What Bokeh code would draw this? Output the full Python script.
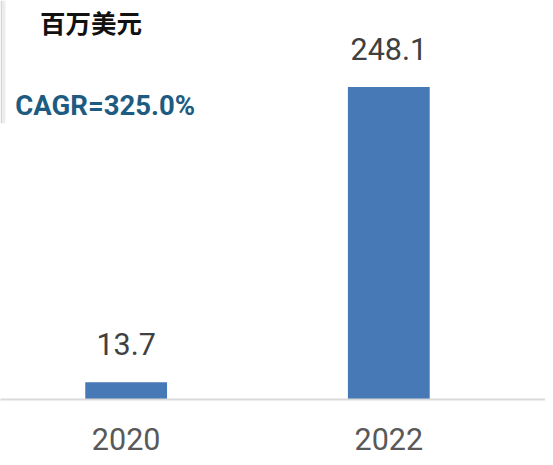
from bokeh.plotting import figure
from bokeh.models import Range1d, FixedTicker, ColumnDataSource, Label
from bokeh.embed import file_html
from bokeh.resources import INLINE
from bokeh.core.properties import value

# ---- data ----
years = ["2020", "2022"]
values = [13.7, 248.1]
value_labels = ["13.7", "248.1"]
unit_label = "百万美元"
cagr_label = "CAGR=325.0%"

positions = [i + 0.5 for i in range(len(years))]

# ---- layout ----
W, H = 545, 457
KX, KY = W / 553, H / 465        # reference pixels -> figure pixels
FRAME_H = round(406 * KY)         # axis line position
X_PX = (394 - 127.5) * KX         # pixels per category slot
X_START = 0.5 - 127.5 * KX / X_PX
X_END = X_START + W / X_PX
Y_PX = (406 - 88) * KY / 248.1
Y_END = FRAME_H / Y_PX


def sx(rx):
    return X_START + rx * KX / X_PX


def sy(ry):
    return (FRAME_H - ry * KY) / Y_PX


p = figure(width=W, height=H, output_backend="svg", toolbar_location=None,
           x_range=Range1d(X_START, X_END), y_range=Range1d(0, Y_END),
           min_border=0, min_border_bottom=H - FRAME_H,
           y_axis_location=None)
p.outline_line_color = None
p.xgrid.grid_line_color = None
p.ygrid.grid_line_color = None
p.background_fill_color = "white"
p.border_fill_color = "white"

# faint grey edge strip at the top-left (decoration seen in the reference)
p.quad(left=[sx(0), sx(2)], right=[sx(2), sx(5)], top=[sy(0), sy(0)],
       bottom=[sy(125), sy(125)], fill_color=["#d6d6d6", "#ededed"],
       line_color=None)

src = ColumnDataSource(dict(x=positions, top=values, label=value_labels))
p.vbar(x="x", top="top", bottom=0, width=83 * KX / X_PX, source=src,
       fill_color="#4779B7", line_color=None)
p.text(x="x", y="top", text="label", source=src, y_offset=-38,
       text_align="center", text_baseline="middle",
       text_font=value("Roboto"), text_font_size="30.5px", text_color="#404040")

ax = p.xaxis[0]
ax.ticker = FixedTicker(ticks=positions)
ax.major_label_overrides = {pos: yr for pos, yr in zip(positions, years)}
ax.major_tick_line_color = None
ax.minor_tick_line_color = None
ax.major_tick_out = 0
ax.major_label_standoff = 28
ax.axis_line_color = "#d9d9d9"
ax.axis_line_width = 2
ax.major_label_text_font = "Roboto"
ax.major_label_text_font_size = "30.5px"
ax.major_label_text_color = "#595959"

p.add_layout(Label(x=sx(40), y=sy(21), text=unit_label,
                   text_font="Noto Sans CJK SC", text_font_style="bold",
                   text_font_size="25.5px", text_color="#111111",
                   text_align="left", text_baseline="middle"))
p.add_layout(Label(x=sx(15), y=sy(107), text=cagr_label,
                   text_font="Roboto", text_font_style="bold",
                   text_font_size="27.5px", text_color="#1D5C80",
                   text_align="left", text_baseline="middle"))

open("out.html", "w").write(file_html(p, INLINE))
